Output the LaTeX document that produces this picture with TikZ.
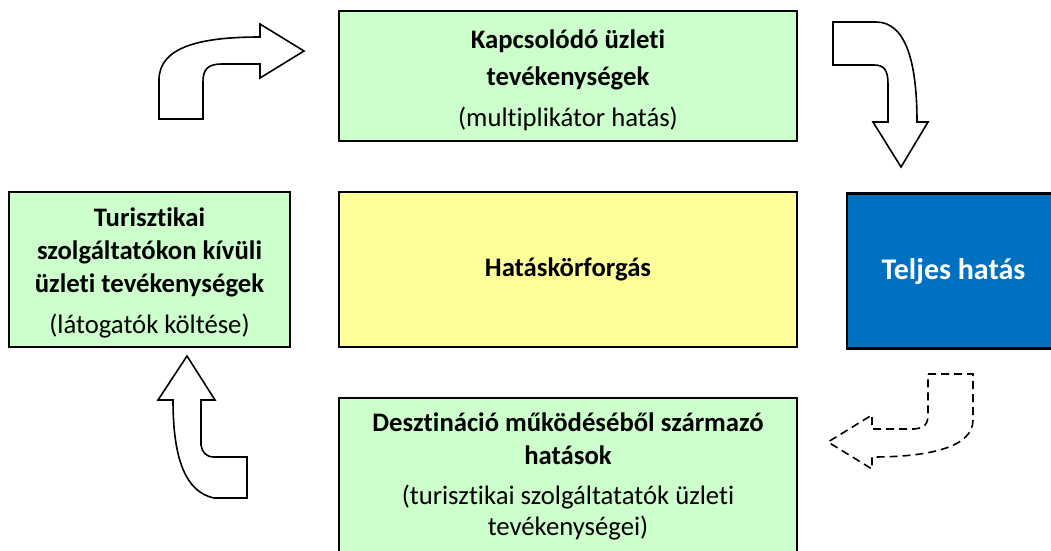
\documentclass[tikz,border=0pt]{standalone}
\usepackage{fontspec}
\setmainfont{Carlito}[Ligatures=NoCommon]
\definecolor{lgreen}{HTML}{CCFFCC}
\definecolor{lyellow}{HTML}{FFFF99}
\definecolor{mblue}{HTML}{0070C0}
\begin{document}
\begin{tikzpicture}[x=1pt,y=-1pt,
  box/.style={draw=black,line width=2.6pt,inner sep=0pt,align=center,
    font=\fontsize{26.7}{33}\selectfont},
  blockarrow/.style={draw=black,line width=1.6pt,fill=white,line join=miter},
  dasharrow/.style={draw=black,line width=1.6pt,dash pattern=on 8pt off 5pt,fill=white}]
\clip (0,0) rectangle (1051,550);
\useasboundingbox (0,0) rectangle (1051,550);
\fill[white] (0,0) rectangle (1051,550);

\node[box,fill=lgreen,minimum width=458pt,minimum height=130pt] (top) at (568,76)
  {\rule{0pt}{28pt}\textbf{Kapcsolódó üzleti}\\[4pt]\textbf{tevékenységek}\\[8pt](multiplikátor hatás)};
\node[box,fill=lgreen,minimum width=281pt,minimum height=155pt] (left) at (149.5,269.5)
  {\rule{0pt}{25pt}\textbf{Turisztikai}\\\textbf{szolgáltatókon kívüli}\\\textbf{üzleti tevékenységek}\\[8pt](látogatók költése)};
\node[box,fill=lyellow,minimum width=458pt,minimum height=155pt] (mid) at (568,269.5)
  {\textbf{Hatáskörforgás}};
\node[box,fill=mblue,minimum width=213pt,minimum height=155pt,text=white,
  font=\fontsize{30}{36}\selectfont\bfseries] (total) at (953.5,271) {Teljes hatás};
\node[box,fill=lgreen,minimum width=458pt,minimum height=154pt] (bottom) at (568,475)
  {\rule{0pt}{22pt}\textbf{Desztináció működéséből származó}\\\textbf{hatások}\\[7pt](turisztikai szolgáltatatók üzleti\\[-2pt]tevékenységei)};

% top-left curved arrow (left box -> top box)
\draw[blockarrow] (159,119) -- (159,80) .. controls (159,47) and (200,37) .. (260,37)
  -- (260,24) -- (304,51) -- (260,78) -- (260,64) -- (222,64)
  .. controls (207,64) and (203,70) .. (203,82) -- (203,119) -- cycle;

% top-right curved arrow (top box -> total)
\draw[blockarrow] (833,22) -- (876,22) .. controls (905,22) and (917,60) .. (917,122)
  -- (928,122) -- (901,167) -- (873,122) -- (888,122) -- (888,84)
  .. controls (888,70) and (884,65) .. (874,65) -- (833,65) -- cycle;

% bottom-right dashed arrow (total -> bottom box)
\draw[dasharrow] (928,374) -- (973,374) -- (973,420)
  .. controls (973,447) and (930,457) .. (872,457) -- (872,469) -- (828,442)
  -- (872,415) -- (872,429) -- (914,429)
  .. controls (925,428) and (928,424) .. (928,414) -- cycle;

% bottom-left curved arrow (bottom box -> left box)
\draw[blockarrow] (247,498) -- (214,498) .. controls (186,492) and (173,460) .. (173,400)
  -- (158,400) -- (187,356) -- (215,400) -- (201,400) -- (201,445)
  .. controls (202,452) and (206,457) .. (214,457) -- (247,457) -- cycle;
\end{tikzpicture}
\end{document}
